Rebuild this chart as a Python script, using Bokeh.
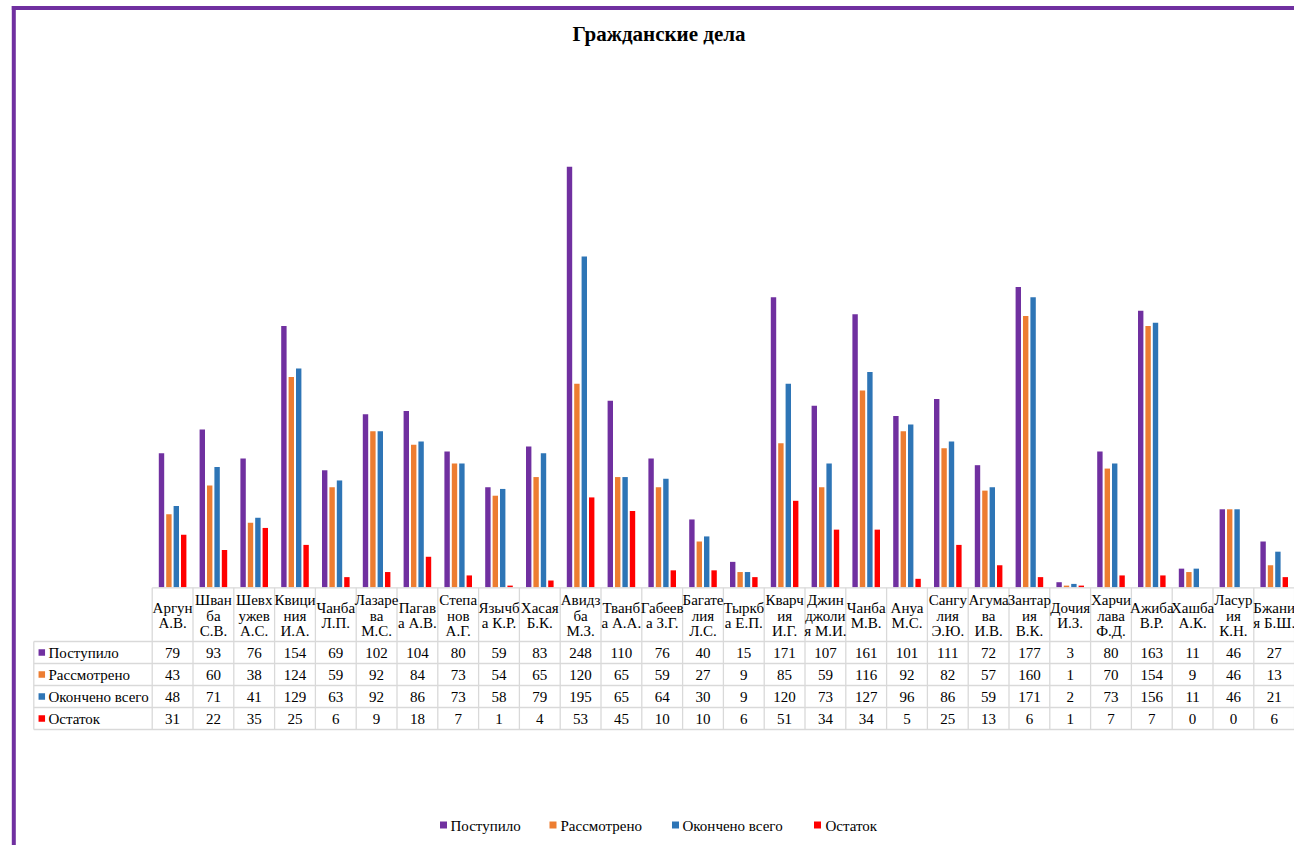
import numpy as np
from bokeh.plotting import figure
from bokeh.models import Range1d
from bokeh.core.properties import value
from bokeh.embed import file_html
from bokeh.resources import INLINE

# ---------------- data ----------------
title_text = "Гражданские дела"
categories = [
    "Аргун\nА.В.", "Шван\nба\nС.В.", "Шевх\nужев\nА.С.", "Квици\nния\nИ.А.", "Чанба\nЛ.П.",
    "Лазаре\nва\nМ.С.", "Пагав\nа А.В.", "Степа\nнов\nА.Г.", "Язычб\nа К.Р.", "Хасая\nБ.К.",
    "Авидз\nба\nМ.З.", "Тванб\nа А.А.", "Габеев\nа З.Г.", "Багате\nлия\nЛ.С.", "Тыркб\nа Е.П.",
    "Кварч\nия\nИ.Г.", "Джин\nджоли\nя М.И.", "Чанба\nМ.В.", "Ануа\nМ.С.", "Сангу\nлия\nЭ.Ю.",
    "Агума\nва\nИ.В.", "Зантар\nия\nВ.К.", "Дочия\nИ.З.", "Харчи\nлава\nФ.Д.", "Ажиба\nВ.Р.",
    "Хашба\nА.К.", "Ласур\nия\nК.Н.", "Бжани\nя Б.Ш.",
]
series_names = ["Поступило", "Рассмотрено", "Окончено всего", "Остаток"]
postupilo = [79, 93, 76, 154, 69, 102, 104, 80, 59, 83, 248, 110, 76, 40, 15, 171, 107, 161, 101, 111, 72, 177, 3, 80, 163, 11, 46, 27]
rassmotreno = [43, 60, 38, 124, 59, 92, 84, 73, 54, 65, 120, 65, 59, 27, 9, 85, 59, 116, 92, 82, 57, 160, 1, 70, 154, 9, 46, 13]
okoncheno = [48, 71, 41, 129, 63, 92, 86, 73, 58, 79, 195, 65, 64, 30, 9, 120, 73, 127, 96, 86, 59, 171, 2, 73, 156, 11, 46, 21]
ostatok = [31, 22, 35, 25, 6, 9, 18, 7, 1, 4, 53, 45, 10, 10, 6, 51, 34, 34, 5, 25, 13, 6, 1, 7, 7, 0, 0, 6]
series_values = [postupilo, rassmotreno, okoncheno, ostatok]
colors = ["#7030A0", "#ED7D31", "#2E75B6", "#FF0000"]

# ---------------- layout (page pixels) ----------------
OX, OY = 0, 0                 # where the figure lands on the page
W, H = 1294, 845
X0, CW = 151.7, 40.8          # left of first category column, column width
Y0, YS = 586.8, 1.696         # baseline, px per unit

def xd(px):
    return (px - X0) / CW

def yd(py):
    return (Y0 - py) / YS

FONT = value("Liberation Serif")
FS = "15px"
GRID = "#D9D9D9"

p = figure(width=W, height=H, x_range=Range1d(xd(OX), xd(OX + W)), y_range=Range1d(yd(OY + H), yd(OY)),
           output_backend="svg", toolbar_location=None, min_border=0,
           x_axis_location=None, y_axis_location=None)
p.grid.visible = False
p.outline_line_color = None
p.background_fill_color = "white"
p.border_fill_color = "white"

n = len(categories)
idx = np.arange(n) + 0.5
step = 7.4 / CW
offsets = [-1.5 * step, -0.5 * step, 0.5 * step, 1.5 * step]
bw = 5.4 / CW

# bars
for vals, c, off in zip(series_values, colors, offsets):
    p.vbar(x=idx + off, top=vals, bottom=0, width=bw, fill_color=c, line_color=None)

# ---------------- data table ----------------
row_lines = [641, 663, 685, 707, 729]
row_centers = [(row_lines[i] + row_lines[i + 1]) / 2 for i in range(4)]
tbl_right = X0 + n * CW
p.segment(x0=[xd(X0)], y0=[yd(587.3)], x1=[xd(tbl_right)], y1=[yd(587.3)], line_color=GRID, line_width=1.3)
p.segment(x0=[xd(33.3)] * len(row_lines), y0=[yd(r) for r in row_lines],
          x1=[xd(tbl_right)] * len(row_lines), y1=[yd(r) for r in row_lines], line_color=GRID, line_width=1.3)
vx = [xd(X0) + k for k in range(n + 1)]
p.segment(x0=vx, y0=[yd(587.3)] * len(vx), x1=vx, y1=[yd(729)] * len(vx), line_color=GRID, line_width=1.3)
p.segment(x0=[xd(33.3)], y0=[yd(641)], x1=[xd(33.3)], y1=[yd(729)], line_color=GRID, line_width=1.3)

# header labels
hx, hy, ht = [], [], []
for i, lab in enumerate(categories):
    lines = lab.split("\n")
    m = len(lines)
    for j, ln in enumerate(lines):
        hx.append(idx[i])
        hy.append(yd(615 + (j - (m - 1) / 2) * 15.8))
        ht.append(ln)
p.text(x=hx, y=hy, text=ht, text_font=FONT, text_font_size=FS, text_align="center",
       text_baseline="middle", text_color="#000000")

# values
vx_, vy_, vt_ = [], [], []
for r, vals in enumerate(series_values):
    for i, v in enumerate(vals):
        vx_.append(idx[i])
        vy_.append(yd(row_centers[r]))
        vt_.append(str(v))
p.text(x=vx_, y=vy_, text=vt_, text_font=FONT, text_font_size=FS, text_align="center",
       text_baseline="middle", text_color="#000000")

# row legend keys
p.scatter(x=[xd(41.3)] * 4, y=[yd(c) for c in row_centers], marker="square", size=6.5,
          fill_color=colors, line_color=None)
p.text(x=[xd(48)] * 4, y=[yd(c) for c in row_centers], text=series_names, text_font=FONT,
       text_font_size=FS, text_align="left", text_baseline="middle", text_color="#000000")

# ---------------- title ----------------
p.text(x=[xd(658.5)], y=[yd(33)], text=[title_text], text_font=FONT, text_font_size="21px",
       text_font_style="bold", text_align="center", text_baseline="middle", text_color="#000000")

# ---------------- bottom legend ----------------
leg_sq = [443, 552.5, 675, 817]
leg_tx = [450, 560, 682, 825]
p.scatter(x=[xd(v) for v in leg_sq], y=[yd(824.5)] * 4, marker="square", size=7,
          fill_color=colors, line_color=None)
p.text(x=[xd(v) for v in leg_tx], y=[yd(825)] * 4, text=series_names, text_font=FONT,
       text_font_size=FS, text_align="left", text_baseline="middle", text_color="#000000")

# ---------------- chart border (left + top) ----------------
p.segment(x0=[xd(13.3), xd(11.3)], y0=[yd(5.5), yd(7.5)], x1=[xd(13.3), xd(OX + W)], y1=[yd(OY + H), yd(7.5)],
          line_color="#7030A0", line_width=4)

open("out.html", "w").write(file_html(p, INLINE))
